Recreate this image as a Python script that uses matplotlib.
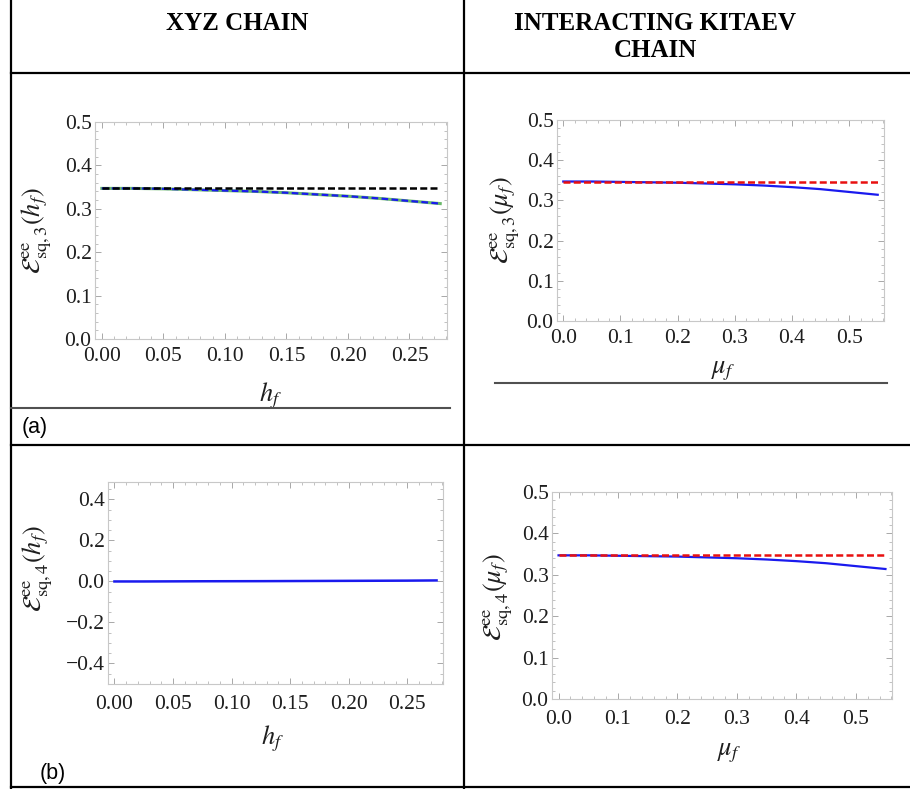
import matplotlib.pyplot as plt
import matplotlib.ticker as mticker
from matplotlib.lines import Line2D

plt.rcParams['font.family'] = ['Liberation Serif', 'DejaVu Serif']
plt.rcParams['mathtext.fontset'] = 'stix'

# data
h_f = [0.0, 0.025, 0.05, 0.075, 0.10, 0.125, 0.15, 0.175, 0.20, 0.225, 0.25, 0.275]
xyz_sq3 = [0.347, 0.347, 0.346, 0.344, 0.342, 0.340, 0.337, 0.333, 0.329, 0.324, 0.318, 0.312]
xyz_sq3_ref = [0.347] * len(h_f)
xyz_sq4 = [0.0, 0.0, 0.0005, 0.001, 0.0012, 0.0015, 0.002, 0.0025, 0.003, 0.0035, 0.004, 0.005]

mu_f = [0.0, 0.05, 0.10, 0.15, 0.20, 0.25, 0.30, 0.35, 0.40, 0.45, 0.50, 0.55]
kit_sq3 = [0.347, 0.347, 0.346, 0.345, 0.344, 0.342, 0.340, 0.337, 0.333, 0.328, 0.321, 0.314]
kit_sq3_ref = [0.347] * len(mu_f)
kit_sq4 = [0.347, 0.347, 0.346, 0.345, 0.344, 0.342, 0.340, 0.337, 0.333, 0.328, 0.321, 0.314]
kit_sq4_ref = [0.347] * len(mu_f)

W, H = 910, 789
fig = plt.figure(figsize=(W / 100, H / 100), dpi=100)


def px_rect(x0, y0, x1, y1):
    return [x0 / W, 1 - y1 / H, (x1 - x0) / W, (y1 - y0) / H]


def hline(y, x0, x1, color='black', lw=1.6):
    fig.add_artist(Line2D([x0 / W, x1 / W], [1 - y / H, 1 - y / H], color=color, lw=lw))


def vline(x, y0, y1, color='black', lw=1.6):
    fig.add_artist(Line2D([x / W, x / W], [1 - y0 / H, 1 - y1 / H], color=color, lw=lw))


def minus_fmt(fmt):
    return mticker.FuncFormatter(lambda v, p: (fmt % v).replace('-', '\u2212'))


def style(ax, xlim, ylim, xmaj, xmin, ymaj, ymin, xfmt, yfmt, xpad):
    ax.set_xlim(*xlim)
    ax.set_ylim(*ylim)
    ax.xaxis.set_major_locator(mticker.MultipleLocator(xmaj))
    ax.xaxis.set_minor_locator(mticker.MultipleLocator(xmin))
    ax.yaxis.set_major_locator(mticker.MultipleLocator(ymaj))
    ax.yaxis.set_minor_locator(mticker.MultipleLocator(ymin))
    ax.xaxis.set_major_formatter(minus_fmt(xfmt))
    ax.yaxis.set_major_formatter(minus_fmt(yfmt))
    for s in ax.spines.values():
        s.set_color('#c8c8c8')
        s.set_linewidth(0.8)
    ax.tick_params(which='both', direction='in', top=True, right=True, color='#a8a8a8',
                   labelsize=15.5, labelcolor='#1e1e1e')
    ax.tick_params(which='major', length=4.5, width=0.7)
    ax.tick_params(which='minor', length=2.5, width=0.5)
    ax.tick_params(axis='x', pad=xpad)
    ax.tick_params(axis='y', pad=2.5)


def labels(ax, xl, yl, xpos, ypos):
    ax.set_xlabel(xl, fontsize=19, color='#1e1e1e')
    ax.set_ylabel(yl, fontsize=19, color='#1e1e1e')
    ax.xaxis.label.set_va('center')
    ax.yaxis.label.set_va('center')
    ax.xaxis.set_label_coords(*xpos)
    ax.yaxis.set_label_coords(*ypos)


# (a) XYZ chain
ax1 = fig.add_axes(px_rect(95, 122, 447, 339))
ax1.plot(h_f, xyz_sq3, color='#2a9a2a', lw=2.2, alpha=0.7)
ax1.plot(h_f, xyz_sq3, color='#1a1aee', lw=1.6, dashes=(3, 1.5))
ax1.plot(h_f, xyz_sq3_ref, color='black', lw=1.8, dashes=(2.8, 1.3))
style(ax1, (-0.0055, 0.2805), (0, 0.5), 0.05, 0.01, 0.1, 0.02, '%.2f', '%.1f', 6)
labels(ax1, r'$h_f$', r'$\mathcal{E}^{\rm ee}_{\rm sq,3}(h_f)$', (0.5, -0.26), (-0.165, 0.5))

# (a) interacting Kitaev chain
ax2 = fig.add_axes(px_rect(557, 120, 884, 321))
ax2.plot(mu_f, kit_sq3, color='#1a1aee', lw=1.6)
ax2.plot(mu_f, kit_sq3_ref, color='#e81010', lw=1.8, dashes=(2.8, 1.3))
style(ax2, (-0.011, 0.561), (0, 0.5), 0.1, 0.02, 0.1, 0.02, '%.1f', '%.1f', 6)
labels(ax2, r'$\mu_f$', r'$\mathcal{E}^{\rm ee}_{\rm sq,3}(\mu_f)$', (0.51, -0.25), (-0.16, 0.5))

# (b) XYZ chain
ax3 = fig.add_axes(px_rect(108, 482, 443, 684))
ax3.plot(h_f, xyz_sq4, color='#1a1aee', lw=1.8)
style(ax3, (-0.0055, 0.2805), (-0.5, 0.485), 0.05, 0.01, 0.2, 0.05, '%.2f', '%.1f', 8)
labels(ax3, r'$h_f$', r'$\mathcal{E}^{\rm ee}_{\rm sq,4}(h_f)$', (0.49, -0.27), (-0.21, 0.57))

# (b) interacting Kitaev chain
ax4 = fig.add_axes(px_rect(552, 492, 892, 699))
ax4.plot(mu_f, kit_sq4, color='#1a1aee', lw=1.6)
ax4.plot(mu_f, kit_sq4_ref, color='#e81010', lw=1.8, dashes=(2.8, 1.3))
style(ax4, (-0.011, 0.561), (0, 0.5), 0.1, 0.02, 0.1, 0.02, '%.1f', '%.1f', 8)
labels(ax4, r'$\mu_f$', r'$\mathcal{E}^{\rm ee}_{\rm sq,4}(\mu_f)$', (0.52, -0.26), (-0.16, 0.49))

# table frame
vline(11, 0, 789)
vline(464, 0, 789)
hline(73, 11, 910)
hline(445, 11, 910)
hline(787, 11, 910)
hline(408, 11, 450, color='#505050', lw=1.5)
hline(383, 495, 887, color='#505050', lw=1.5)

# headers and panel tags
fig.text(237 / W, 1 - 23 / H, 'XYZ CHAIN', ha='center', va='center', fontsize=18, fontweight='bold')
fig.text(655 / W, 1 - 37 / H, 'INTERACTING KITAEV\nCHAIN', ha='center', va='center',
         fontsize=18, fontweight='bold', linespacing=1.2)
fig.text(22 / W, 1 - 427 / H, '(a)', ha='left', va='center', fontsize=15.5, family='Liberation Sans')
fig.text(40 / W, 1 - 773 / H, '(b)', ha='left', va='center', fontsize=15.5, family='Liberation Sans')

fig.savefig('out.png', dpi=100)
